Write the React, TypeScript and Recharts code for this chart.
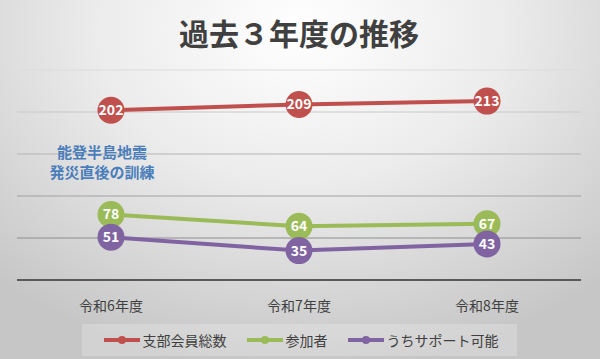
import React from "react";
import { LineChart, Line, XAxis, YAxis, CartesianGrid, Legend, LabelList } from "recharts";

const years = ["令和6年度", "令和7年度", "令和8年度"];
const members = [202, 209, 213];
const participants = [78, 64, 67];
const supporters = [51, 35, 43];
const yTicks = [0, 50, 100, 150, 200, 250];

const SERIES = [
  { key: "members", name: "支部会員総数", color: "#C0504D" },
  { key: "participants", name: "参加者", color: "#9BBB59" },
  { key: "supporters", name: "うちサポート可能", color: "#8064A2" },
];

const data = years.map((y, i) => ({
  year: y,
  members: members[i],
  participants: participants[i],
  supporters: supporters[i],
}));

const FONT = '"Noto Sans CJK JP", "Noto Sans", sans-serif';

function LegendBox() {
  return (
    <div style={{ textAlign: "center" }}>
      <div
        style={{
          display: "inline-flex",
          alignItems: "center",
          gap: 20,
          padding: "0 18px 0 22px",
          height: 32,
          background: "rgba(255,255,255,0.22)",
          fontFamily: FONT,
          fontSize: 14,
          color: "#404040",
        }}
      >
        {SERIES.map((s) => (
          <span key={s.key} style={{ display: "inline-flex", alignItems: "center" }}>
            <svg width={36} height={10} style={{ marginRight: 3 }}>
              <line x1={0} y1={5} x2={36} y2={5} stroke={s.color} strokeWidth={4} />
              <circle cx={18} cy={5} r={4} fill={s.color} />
            </svg>
            {s.name}
          </span>
        ))}
      </div>
    </div>
  );
}

export default function App() {
  return (
    <div
      style={{
        position: "absolute",
        top: 0,
        left: 0,
        width: 600,
        height: 359,
        background:
          "radial-gradient(ellipse 75% 95% at 50% 8%, #ffffff 0%, #ececec 45%, #c6c6c6 100%)",
      }}
    >
      <LineChart width={600} height={359} data={data} margin={{ top: 70, right: 19, left: 17, bottom: 3 }}>
        <defs>
          <linearGradient id="gridGrad" gradientUnits="userSpaceOnUse" x1="0" y1="70" x2="0" y2="280">
            <stop offset="0%" stopColor="#dcdcdc" />
            <stop offset="100%" stopColor="#7a7a7a" />
          </linearGradient>
        </defs>
        <text x={299} y={45} textAnchor="middle" fontFamily={FONT} fontWeight="bold" fontSize={30} fill="#404040">
          過去３年度の推移
        </text>
        <CartesianGrid vertical={false} stroke="url(#gridGrad)" strokeWidth={1.2} />
        <XAxis
          dataKey="year"
          height={44}
          padding={{ left: 94, right: 94 }}
          axisLine={{ stroke: "#595959", strokeWidth: 2 }}
          tickLine={false}
          tick={{ fontSize: 14, fill: "#404040", fontFamily: FONT }}
          tickMargin={15}
        />
        <YAxis hide domain={[0, 250]} ticks={yTicks} />
        <Legend content={<LegendBox />} verticalAlign="bottom" height={32} />
        {SERIES.map((s) => (
          <Line
            key={s.key}
            dataKey={s.key}
            name={s.name}
            stroke={s.color}
            strokeWidth={4}
            dot={{ r: 13.5, fill: s.color, stroke: "none" }}
            activeDot={false}
            isAnimationActive={false}
          >
            <LabelList
              dataKey={s.key}
              position="center"
              fill="#ffffff"
              fontSize={14}
              fontWeight="bold"
              fontFamily={FONT}
            />
          </Line>
        ))}
        <text textAnchor="middle" fontFamily={FONT} fontWeight="bold" fontSize={15} fill="#4A7EBB">
          <tspan x={102} y={158}>能登半島地震</tspan>
          <tspan x={102} y={178}>発災直後の訓練</tspan>
        </text>
      </LineChart>
    </div>
  );
}
